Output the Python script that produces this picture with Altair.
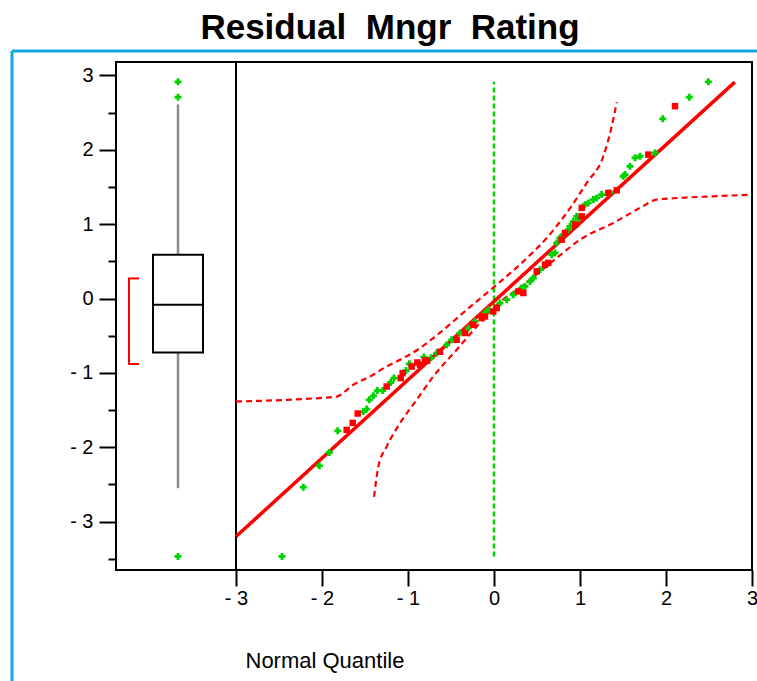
import altair as alt
import pandas as pd

# ---------------- data ----------------
# green "+" points: normal quantile / residual
green_q = [-2.465, -2.217, -2.031, -1.915, -1.817, -1.520, -1.480, -1.450, -1.403, -1.357,
           -1.294, -1.201, -1.163, -1.023, -0.985, -0.814, -0.733, -0.666, -0.550, -0.492,
           -0.395, -0.299, -0.221, -0.105, -0.066, 0.070, 0.148, 0.224, 0.322, 0.360,
           0.419, 0.457, 0.535, 0.671, 0.709, 0.729, 0.767, 0.806, 0.864, 0.884,
           0.922, 0.962, 0.980, 1.058, 1.097, 1.155, 1.194, 1.252, 1.349, 1.503,
           1.523, 1.581, 1.640, 1.698, 1.872, 1.962, 2.271, 2.492]
green_r = [-3.468, -2.537, -2.250, -2.071, -1.779, -1.520, -1.487, -1.362, -1.308, -1.237,
           -1.237, -1.129, -1.070, -0.968, -0.878, -0.787, -0.797, -0.734, -0.622, -0.555,
           -0.464, -0.397, -0.308, -0.195, -0.151, -0.061, -0.016, 0.051, 0.141, 0.163,
           0.230, 0.276, 0.388, 0.590, 0.612, 0.747, 0.814, 0.859, 0.926, 0.970,
           1.034, 1.105, 1.074, 1.262, 1.285, 1.330, 1.353, 1.397, 1.420, 1.643,
           1.666, 1.778, 1.891, 1.913, 1.958, 2.416, 2.707, 2.914]
# red square points
red_q = [-1.713, -1.643, -1.585, -1.248, -1.085, -1.062, -0.957, -0.892, -0.860, -0.802,
         -0.779, -0.628, -0.434, -0.337, -0.241, -0.143, -0.105, -0.008, 0.031, 0.283,
         0.341, 0.497, 0.593, 0.631, 0.787, 0.826, 0.942, 1.020, 1.020, 1.329,
         1.427, 1.794, 2.105]
red_r = [-1.766, -1.672, -1.546, -1.183, -1.070, -1.003, -0.914, -0.860, -0.891, -0.833,
         -0.837, -0.716, -0.555, -0.464, -0.353, -0.262, -0.241, -0.174, -0.128, 0.096,
         0.074, 0.365, 0.455, 0.478, 0.791, 0.882, 0.993, 1.105, 1.218, 1.420,
         1.455, 1.935, 2.586]

# fitted normal line (end points)
fit_q = [-3.0, 2.80]
fit_r = [-3.20, 2.91]

# confidence bands
upper_q = [-3.0, -2.198, -1.829, -1.636, -1.442, -1.248, -1.093, -0.860, -0.706, -0.317,
           0.031, 0.341, 0.613, 0.845, 1.078, 1.271, 1.369, 1.427]
upper_r = [-1.385, -1.349, -1.318, -1.160, -1.048, -0.914, -0.824, -0.666, -0.532, -0.151,
           0.186, 0.499, 0.814, 1.151, 1.554, 1.913, 2.316, 2.639]
lower_q = [-1.395, -1.345, -1.248, -1.093, -0.899, -0.706, -0.434, -0.201, 0.012, 0.340,
           0.729, 1.000, 1.387, 1.698, 1.892, 2.163, 2.550, 3.0]
lower_r = [-2.668, -2.260, -1.991, -1.676, -1.362, -1.048, -0.689, -0.376, -0.106, 0.180,
           0.545, 0.791, 1.016, 1.218, 1.330, 1.353, 1.374, 1.397]

# box plot summary
box_q1, box_median, box_q3 = -0.725, -0.083, 0.59
whisker_lo, whisker_hi = -2.55, 2.61
outliers = [2.914, 2.707, -3.468]
short_half = [-0.88, 0.27]

y_domain = [-3.65, 3.18]
x_domain = [-3, 3]
x_ticks = [-3, -2, -1, 0, 1, 2, 3]
y_ticks = [-3.5, -3, -2.5, -2, -1.5, -1, -0.5, 0, 0.5, 1, 1.5, 2, 2.5, 3]

# ---------------- layout ----------------
W, H = 636, 508
BOX_W = 120
FONT = "Liberation Sans"
GREEN = "#00d200"
RED = "#ff0000"

x_scale = alt.Scale(domain=x_domain, range=[BOX_W, W], nice=False, zero=False)
y_scale = alt.Scale(domain=y_domain, nice=False, zero=False)

x_axis = alt.Axis(values=x_ticks, domain=False, grid=False, tickSize=16, tickWidth=2,
                  tickColor="black", labelFont=FONT, labelFontSize=20, labelColor="black",
                  labelPadding=2, labelFlush=False, labelOverlap=False,
                  labelExpr="datum.value < 0 ? '- ' + (-datum.value) : '' + datum.value",
                  title="Normal Quantile", titleFont=FONT, titleFontSize=22,
                  titleFontWeight="normal", titleColor="black", titleX=129, titleY=97,
                  titleAlign="left", titleBaseline="alphabetic")
y_axis = alt.Axis(values=y_ticks, domain=False, grid=False,
                  tickSize={"condition": {"test": "datum.value % 1 == 0", "value": 17}, "value": 8},
                  tickWidth=2, tickColor="black", labelFont=FONT, labelFontSize=20,
                  labelColor="black", labelPadding=6, labelOverlap=False, labelFlush=False,
                  labelExpr="datum.value % 1 != 0 ? '' : (datum.value < 0 ? '- ' + (-datum.value) : '' + datum.value)",
                  title=None)


def X(f):
    return alt.X(f, type="quantitative", scale=x_scale, axis=x_axis)


def Y(f):
    return alt.Y(f, type="quantitative", scale=y_scale, axis=y_axis)


one = pd.DataFrame({"a": [0]})

# blue frame around the report
frame_v = alt.Chart(one).mark_rule(color="#12a6e2", strokeWidth=3).encode(
    x=alt.value(-104), y=alt.value(-11), y2=alt.value(700))
frame_h = alt.Chart(one).mark_rule(color="#12a6e2", strokeWidth=3).encode(
    x=alt.value(-104), x2=alt.value(700), y=alt.value(-11))

# box plot panel
box_df = pd.DataFrame({"q1": [box_q1], "q3": [box_q3], "med": [box_median],
                       "lo": [whisker_lo], "hi": [whisker_hi]})
wh_up = alt.Chart(box_df).mark_rule(color="#8c8c8c", strokeWidth=2.5).encode(
    x=alt.value(62), y=Y("q3"), y2="hi")
wh_dn = alt.Chart(box_df).mark_rule(color="#8c8c8c", strokeWidth=2.5).encode(
    x=alt.value(62), y=Y("lo"), y2="q1")
box = alt.Chart(box_df).mark_rect(fill="white", stroke="black", strokeWidth=2).encode(
    x=alt.value(37), x2=alt.value(87), y=Y("q1"), y2="q3")
med = alt.Chart(box_df).mark_rule(color="black", strokeWidth=2).encode(
    x=alt.value(37), x2=alt.value(87), y=Y("med"))
out_df = pd.DataFrame({"r": outliers})
outp = alt.Chart(out_df).mark_point(shape="cross", filled=True, size=49, color=GREEN, opacity=1).encode(
    x=alt.value(62), y=Y("r"))
sh_df = pd.DataFrame({"lo": [short_half[0]], "hi": [short_half[1]]})
sh_v = alt.Chart(sh_df).mark_rule(color=RED, strokeWidth=2).encode(
    x=alt.value(13), y=Y("lo"), y2="hi")
sh_ends = pd.DataFrame({"r": short_half})
sh_h = alt.Chart(sh_ends).mark_rule(color=RED, strokeWidth=2).encode(
    x=alt.value(12), x2=alt.value(23), y=Y("r"))

# separator between panels
sep_df = pd.DataFrame({"q": [x_domain[0]], "lo": [y_domain[0]], "hi": [y_domain[1]]})
sep = alt.Chart(sep_df).mark_rule(color="black", strokeWidth=2).encode(
    x=X("q"), y=Y("lo"), y2="hi")

# zero reference line spanning data range
all_r = green_r + red_r
zero_df = pd.DataFrame({"q": [0], "lo": [min(all_r)], "hi": [max(all_r)]})
zero = alt.Chart(zero_df).mark_rule(color=GREEN, strokeWidth=2.5, strokeDash=[5, 3]).encode(
    x=X("q"), y=Y("lo"), y2="hi")

up_df = pd.DataFrame({"q": upper_q, "r": upper_r})
lo_df = pd.DataFrame({"q": lower_q, "r": lower_r})
band_up = alt.Chart(up_df).mark_line(color=RED, strokeWidth=2.2, strokeDash=[6, 4],
                                     interpolate="monotone").encode(x=X("q"), y=Y("r"))
band_lo = alt.Chart(lo_df).mark_line(color=RED, strokeWidth=2.2, strokeDash=[6, 4],
                                     interpolate="monotone").encode(x=X("q"), y=Y("r"))

fit_df = pd.DataFrame({"q": fit_q, "r": fit_r})
fit = alt.Chart(fit_df).mark_line(color=RED, strokeWidth=3.5).encode(x=X("q"), y=Y("r"))

g_df = pd.DataFrame({"q": green_q, "r": green_r})
r_df = pd.DataFrame({"q": red_q, "r": red_r})
gpts = alt.Chart(g_df).mark_point(shape="cross", filled=True, size=49, color=GREEN, opacity=1).encode(
    x=X("q"), y=Y("r"))
rpts = alt.Chart(r_df).mark_square(size=42, color=RED, opacity=1).encode(
    x=X("q"), y=Y("r"))

chart = alt.layer(
    sep, zero, band_up, band_lo, fit, gpts, rpts,
    wh_up, wh_dn, box, med, outp, sh_v, sh_h, frame_v, frame_h,
).properties(
    width=W, height=H,
    autosize=alt.AutoSizeParams(type="none"),
    padding={"left": 116, "top": 62, "right": 5, "bottom": 111},
    title=alt.TitleParams(text="Residual\u00a0\u00a0Mngr\u00a0\u00a0Rating", font=FONT, fontSize=35,
                          fontWeight="bold", color="black", anchor="middle", dx=-44, offset=4),
    background="white",
).configure_view(stroke="black", strokeWidth=2)

chart.save("out.html", embed_options={"renderer": "svg", "actions": False})
